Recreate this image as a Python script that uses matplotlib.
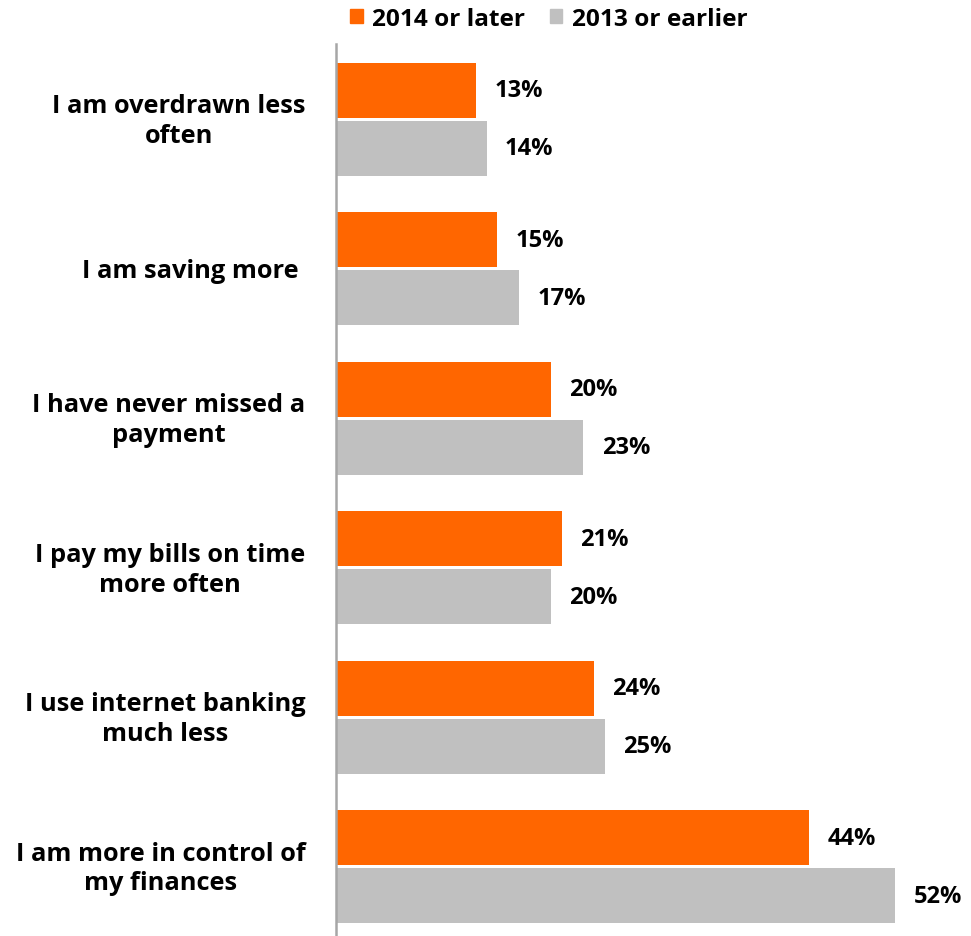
import matplotlib.pyplot as plt
from matplotlib.patches import Patch

# survey answers, top to bottom
categories = ["I am overdrawn less\noften",
              "I am saving more ",
              "I have never missed a\npayment",
              "I pay my bills on time\nmore often",
              "I use internet banking\nmuch less",
              "I am more in control of\nmy finances"]
later = [13, 15, 20, 21, 24, 44]     # 2014 or later
earlier = [14, 17, 23, 20, 25, 52]   # 2013 or earlier

orange = "#FF6600"
grey = "#C0C0C0"

plt.rcParams['font.family'] = ['Open Sans', 'DejaVu Sans']
plt.rcParams['font.weight'] = 'bold'

fig = plt.figure(figsize=(9.71, 9.37), dpi=100)
# axes box in pixels: left 336, right 960, top 45, bottom 937
ax = fig.add_axes([336 / 971, 0, (960 - 336) / 971, (937 - 45) / 937])

h = 0.368
off = 0.194
ypos = list(range(len(categories)))

ax.barh([y - off for y in ypos], later, height=h, color=orange)
ax.barh([y + off for y in ypos], earlier, height=h, color=grey)

for y, v in zip(ypos, later):
    ax.text(v + 1.7, y - off, f"{v}%", va='center', ha='left',
            fontsize=17, fontweight='bold')
for y, v in zip(ypos, earlier):
    ax.text(v + 1.7, y + off, f"{v}%", va='center', ha='left',
            fontsize=17, fontweight='bold')

for y, c in zip(ypos, categories):
    ax.text(-0.049, y + 0.01, c, transform=ax.get_yaxis_transform(),
            ha='right', va='center', ma='center', fontsize=18.3,
            fontweight='bold', linespacing=1.26)

ax.set_xlim(0, 58)
ax.set_ylim(5.465, -0.505)
ax.set_xticks([])
ax.set_yticks([])
for s in ['top', 'right', 'bottom']:
    ax.spines[s].set_visible(False)
ax.spines['left'].set_color('#A6A6A6')
ax.spines['left'].set_linewidth(1.8)

handles = [Patch(color=orange, label="2014 or later"),
           Patch(color=grey, label="2013 or earlier")]
fig.legend(handles=handles, loc='center', bbox_to_anchor=(549 / 971, 1 - 20 / 937),
           ncol=2, frameon=False, fontsize=17.6, handlelength=0.5,
           handleheight=0.5, handletextpad=0.4, columnspacing=1.0)

fig.savefig("out.png", dpi=100)
